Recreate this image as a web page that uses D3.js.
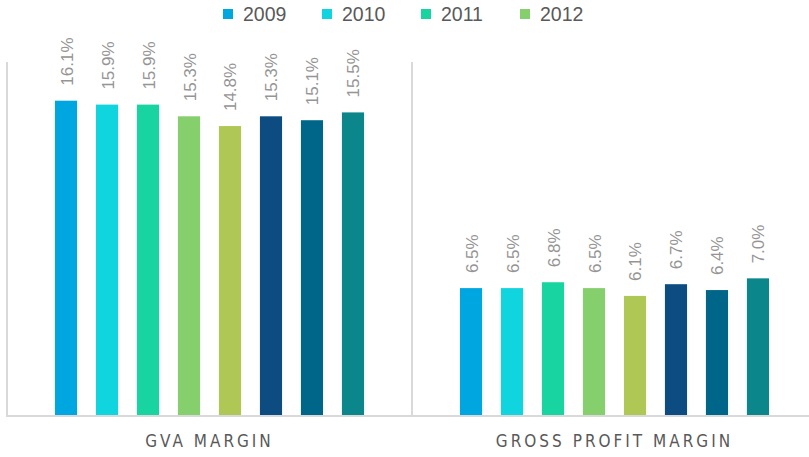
<!DOCTYPE html>
<html>
<head>
<meta charset="utf-8">
<script src="https://cdn.jsdelivr.net/npm/d3@7"></script>
<style>
  html, body { margin: 0; padding: 0; background: #fff; }
  svg { display: block; }
</style>
</head>
<body>
<svg id="chart"></svg>
<script>
const categories = ["GVA MARGIN", "GROSS PROFIT MARGIN"];
const years = ["2009", "2010", "2011", "2012", "2013", "2014", "2015", "2016"];
const legendYears = ["2009", "2010", "2011", "2012"];
const gvaMargin = [16.1, 15.9, 15.9, 15.3, 14.8, 15.3, 15.1, 15.5];
const grossProfitMargin = [6.5, 6.5, 6.8, 6.5, 6.1, 6.7, 6.4, 7.0];
const colors = ["#00A6DF", "#11D5DE", "#17D4A0", "#86CF6D", "#AEC755", "#0D4C80", "#006689", "#0B878B"];

const width = 809, height = 457;
const margin = { top: 62, right: -8, bottom: 42, left: 7 };
const baseline = height - margin.bottom;

const series = [gvaMargin, grossProfitMargin];
const data = categories.map((c, i) => ({
    cat: c,
    values: years.map((y, j) => ({ year: y, v: series[i][j] }))
}));

const svg = d3.select("#chart").attr("width", width).attr("height", height);

const x0 = d3.scaleBand()
    .domain(categories)
    .range([margin.left, width - margin.right]);

const x1 = d3.scaleBand()
    .domain(years)
    .range([0, x0.bandwidth()])
    .paddingInner(0.46)
    .paddingOuter(1.17);

const y = d3.scaleLinear()
    .domain([0, 18])
    .range([baseline, margin.top + 1.6]);

const color = d3.scaleOrdinal().domain(years).range(colors);

// axis lines
svg.append("line")
    .attr("x1", margin.left).attr("x2", margin.left)
    .attr("y1", margin.top).attr("y2", baseline + 1)
    .attr("stroke", "#d9d9d9").attr("stroke-width", 2);

svg.append("line")
    .attr("x1", x0(categories[1])).attr("x2", x0(categories[1]))
    .attr("y1", margin.top).attr("y2", baseline + 1)
    .attr("stroke", "#d9d9d9").attr("stroke-width", 2);

svg.append("line")
    .attr("x1", margin.left - 1).attr("x2", width)
    .attr("y1", baseline + 1).attr("y2", baseline + 1)
    .attr("stroke", "#d9d9d9").attr("stroke-width", 2);

const groups = svg.append("g")
    .selectAll("g")
    .data(data)
    .join("g")
    .attr("transform", d => `translate(${x0(d.cat)},0)`);

groups.selectAll("rect")
    .data(d => d.values)
    .join("rect")
    .attr("x", d => x1(d.year))
    .attr("y", d => y(d.v))
    .attr("width", x1.bandwidth())
    .attr("height", d => y(0) - y(d.v))
    .attr("fill", d => color(d.year));

groups.selectAll("text")
    .data(d => d.values)
    .join("text")
    .attr("transform", d => `translate(${x1(d.year) + x1.bandwidth() / 2 + 6.5},${y(d.v) - 15}) rotate(-90)`)
    .attr("font-family", "Liberation Sans, Arial, sans-serif")
    .attr("font-size", 17)
    .attr("fill", "#959595")
    .text(d => d.v.toFixed(1) + "%");

// category labels
svg.append("g")
    .selectAll("text")
    .data(categories)
    .join("text")
    .attr("x", d => x0(d) + x0.bandwidth() / 2)
    .attr("y", 447)
    .attr("text-anchor", "middle")
    .attr("font-family", "Liberation Sans Narrow, DejaVu Sans Condensed, Arial, sans-serif")
    .attr("font-size", 17)
    .attr("letter-spacing", 3)
    .attr("fill", "#595959")
    .text(d => d);

// legend
const legend = svg.append("g")
    .selectAll("g")
    .data(legendYears)
    .join("g")
    .attr("transform", (d, i) => `translate(${223 + i * 99},0)`);

legend.append("rect")
    .attr("x", 0).attr("y", 9)
    .attr("width", 10).attr("height", 10)
    .attr("fill", d => color(d));

legend.append("text")
    .attr("x", 20).attr("y", 21)
    .attr("font-family", "Liberation Sans, Arial, sans-serif")
    .attr("font-size", 19.5)
    .attr("fill", "#595959")
    .text(d => d);
</script>
</body>
</html>
